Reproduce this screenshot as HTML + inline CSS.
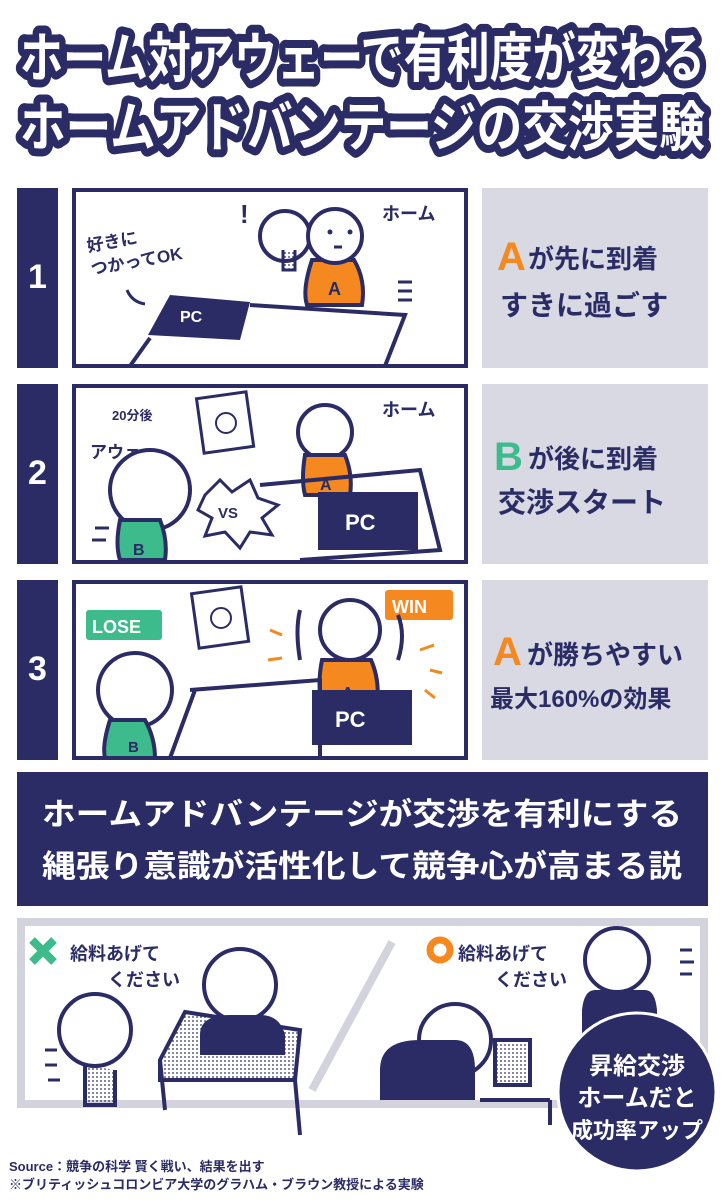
<!DOCTYPE html>
<html><head><meta charset="utf-8"><style>
html,body{margin:0;padding:0;background:#fff;}
svg{display:block;}
text{font-family:"Liberation Sans","Noto Sans CJK JP",sans-serif;font-weight:bold;}
</style></head><body>
<svg width="724" height="1200" viewBox="0 0 724 1200" xmlns="http://www.w3.org/2000/svg">
<defs>
<pattern id="dots" width="4" height="4" patternUnits="userSpaceOnUse"><circle cx="1" cy="1" r="0.9" fill="#2b2c66"/></pattern>
</defs>
<rect width="724" height="1200" fill="#fff"/>
<!-- Title -->
<g font-size="54" stroke="#2b2c66" stroke-width="16" stroke-linejoin="round" fill="#fff" style="paint-order:stroke">
<text x="20" y="77" textLength="685" lengthAdjust="spacingAndGlyphs">ホーム対アウェーで有利度が変わる</text>
<text x="20" y="146" textLength="685" lengthAdjust="spacingAndGlyphs">ホームアドバンテージの交渉実験</text>
</g>

<!-- Rows -->
<g id="rows">
<!-- row 1 -->
<rect x="17" y="188" width="41" height="180" fill="#2b2c66"/>
<text x="37.5" y="288" font-size="34" fill="#fff" text-anchor="middle">1</text>
<rect x="74" y="190" width="392" height="176" fill="#fff" stroke="#2b2c66" stroke-width="4"/>
<rect x="482" y="188" width="226" height="180" fill="#d9d9e3"/>
<text x="497" y="270" font-size="40" fill="#f5891f">A</text>
<text x="528" y="268" font-size="26" fill="#2b2c66">が先に到着</text>
<text x="500" y="315" font-size="28" fill="#2b2c66">すきに過ごす</text>
<!-- panel1 art -->
<text x="88" y="252" font-size="17" fill="#2b2c66" transform="rotate(-10 88 252)">好きに</text>
<text x="92" y="275" font-size="17" fill="#2b2c66" transform="rotate(-10 92 275)">つかってOK</text>
<path d="M127 290 q5 12 18 14" stroke="#2b2c66" stroke-width="3" fill="none"/>
<polygon points="170,295 250,302 240,340 148,335" fill="#2b2c66"/>
<text x="180" y="322" font-size="16" fill="#fff">PC</text>
<path d="M250 305 L405 315 L385 366 M150 338 L130 366" stroke="#2b2c66" stroke-width="4" fill="none"/>
<circle cx="285" cy="236" r="25" fill="#fff" stroke="#2b2c66" stroke-width="4"/>
<path d="M283 250 v20 h12 v-20" fill="url(#dots)" stroke="#2b2c66" stroke-width="3"/>
<text x="240" y="223" font-size="26" fill="#2b2c66">!</text>
<path d="M312 260 q-10 30 -5 45 h55 q4 -25 -8 -45z" fill="#f5891f" stroke="#2b2c66" stroke-width="4"/>
<text x="328" y="295" font-size="18" fill="#2b2c66">A</text>
<circle cx="335" cy="236" r="27" fill="#fff" stroke="#2b2c66" stroke-width="4"/>
<circle cx="330" cy="232" r="2.5" fill="#2b2c66"/><circle cx="350" cy="232" r="2.5" fill="#2b2c66"/>
<path d="M334 247 h8" stroke="#2b2c66" stroke-width="3"/>
<text x="382" y="220" font-size="18" fill="#2b2c66">ホーム</text>
<path d="M398 282 h14 M398 291 h14 M398 300 h14" stroke="#2b2c66" stroke-width="3"/>

<!-- row 2 -->
<rect x="17" y="384" width="41" height="180" fill="#2b2c66"/>
<text x="37.5" y="484" font-size="34" fill="#fff" text-anchor="middle">2</text>
<rect x="74" y="386" width="392" height="176" fill="#fff" stroke="#2b2c66" stroke-width="4"/>
<rect x="482" y="384" width="226" height="180" fill="#d9d9e3"/>
<text x="494" y="470" font-size="40" fill="#3dbb8c">B</text>
<text x="528" y="468" font-size="26" fill="#2b2c66">が後に到着</text>
<text x="498" y="512" font-size="28" fill="#2b2c66">交渉スタート</text>
<text x="112" y="420" font-size="13" fill="#2b2c66">20分後</text>
<text x="90" y="458" font-size="17" fill="#2b2c66">アウェー</text>
<rect x="200" y="395" width="50" height="55" fill="#fff" stroke="#2b2c66" stroke-width="3" transform="rotate(-8 225 422)"/>
<circle cx="226" cy="423" r="10" fill="none" stroke="#2b2c66" stroke-width="2"/>
<text x="382" y="416" font-size="18" fill="#2b2c66">ホーム</text>
<circle cx="325" cy="432" r="27" fill="#fff" stroke="#2b2c66" stroke-width="4"/>
<path d="M305 455 q-4 25 0 40 h45 q3 -20 -5 -40z" fill="#f5891f" stroke="#2b2c66" stroke-width="4"/>
<text x="320" y="490" font-size="16" fill="#2b2c66">A</text>
<path d="M260 485 L420 470 L440 550 L300 560" fill="none" stroke="#2b2c66" stroke-width="4"/>
<rect x="318" y="492" width="100" height="58" fill="#2b2c66"/>
<text x="345" y="530" font-size="22" fill="#fff">PC</text>
<polygon points="205,495 220,480 232,492 250,480 258,498 278,505 262,518 272,535 250,532 240,548 225,532 205,536 212,518 198,510" fill="#fff" stroke="#2b2c66" stroke-width="3"/>
<text x="218" y="518" font-size="15" fill="#2b2c66">VS</text>
<circle cx="150" cy="490" r="40" fill="#fff" stroke="#2b2c66" stroke-width="4"/>
<path d="M120 520 q-5 25 0 40 h45 q3 -20 -5 -40z" fill="#3dbb8c" stroke="#2b2c66" stroke-width="4"/>
<text x="133" y="555" font-size="16" fill="#2b2c66">B</text>
<path d="M95 528 h14 M92 540 h14" stroke="#2b2c66" stroke-width="3"/>

<!-- row 3 -->
<rect x="17" y="580" width="41" height="180" fill="#2b2c66"/>
<text x="37.5" y="680" font-size="34" fill="#fff" text-anchor="middle">3</text>
<rect x="74" y="582" width="392" height="176" fill="#fff" stroke="#2b2c66" stroke-width="4"/>
<rect x="482" y="580" width="226" height="180" fill="#d9d9e3"/>
<text x="493" y="665" font-size="40" fill="#f5891f">A</text>
<text x="527" y="664" font-size="26" fill="#2b2c66">が勝ちやすい</text>
<text x="490" y="707" font-size="24" fill="#2b2c66">最大160%の効果</text>
<rect x="86" y="610" width="76" height="30" rx="3" fill="#3dbb8c"/>
<text x="92" y="633" font-size="18" fill="#fff">LOSE</text>
<rect x="385" y="590" width="68" height="30" rx="3" fill="#f5891f"/>
<text x="392" y="613" font-size="18" fill="#fff">WIN</text>
<rect x="195" y="590" width="50" height="55" fill="#fff" stroke="#2b2c66" stroke-width="3" transform="rotate(-8 220 617)"/>
<circle cx="221" cy="618" r="10" fill="none" stroke="#2b2c66" stroke-width="2"/>
<circle cx="350" cy="630" r="30" fill="#fff" stroke="#2b2c66" stroke-width="4"/>
<path d="M322 660 q-5 25 0 45 h55 q3 -25 -6 -45z" fill="#f5891f" stroke="#2b2c66" stroke-width="4"/>
<text x="342" y="698" font-size="16" fill="#2b2c66">A</text>
<path d="M300 660 q-5 -30 0 -50 M398 660 q8 -25 0 -45" stroke="#2b2c66" stroke-width="4" fill="none"/>
<path d="M190 690 L320 680 L320 760 M170 758 L195 690" fill="none" stroke="#2b2c66" stroke-width="4"/>
<rect x="312" y="690" width="100" height="55" fill="#2b2c66"/>
<text x="335" y="727" font-size="22" fill="#fff">PC</text>
<circle cx="135" cy="690" r="37" fill="#fff" stroke="#2b2c66" stroke-width="4"/>
<path d="M110 720 q-8 25 -5 38 h50 q0 -20 -10 -38z" fill="#3dbb8c" stroke="#2b2c66" stroke-width="4"/>
<text x="128" y="752" font-size="15" fill="#2b2c66">B</text>
<g stroke="#f5891f" stroke-width="3"><path d="M270 630 l12 5 M268 660 l14 -2 M420 650 l14 -5 M430 670 l12 3 M425 690 l10 8"/></g>
</g>

<!-- navy box -->
<rect x="17" y="772" width="691" height="134" fill="#2b2c66"/>
<text x="362" y="825" font-size="31" fill="#fff" text-anchor="middle" textLength="640" lengthAdjust="spacingAndGlyphs">ホームアドバンテージが交渉を有利にする</text>
<text x="362" y="877" font-size="31" fill="#fff" text-anchor="middle" textLength="640" lengthAdjust="spacingAndGlyphs">縄張り意識が活性化して競争心が高まる説</text>

<!-- bottom panel -->
<rect x="21" y="922" width="683" height="182" fill="#fff" stroke="#d3d3de" stroke-width="8"/>
<path d="M392 942 L312 1090" stroke="#d3d3de" stroke-width="8"/>
<path d="M32 940 l22 22 M54 940 l-22 22" stroke="#3dbb8c" stroke-width="8"/>
<text x="70" y="960" font-size="18" fill="#2b2c66">給料あげて</text>
<text x="108" y="986" font-size="18" fill="#2b2c66">ください</text>
<circle cx="440" cy="950" r="10" fill="none" stroke="#f5891f" stroke-width="7"/>
<text x="458" y="960" font-size="18" fill="#2b2c66">給料あげて</text>
<text x="495" y="986" font-size="18" fill="#2b2c66">ください</text>
<!-- left people -->
<circle cx="95" cy="1030" r="36" fill="#fff" stroke="#2b2c66" stroke-width="4"/>
<path d="M85 1065 v40 h30 v-35" fill="url(#dots)" stroke="#2b2c66" stroke-width="4"/>
<path d="M45 1050 h12 M45 1065 h12 M48 1080 h12" stroke="#2b2c66" stroke-width="3"/>
<circle cx="240" cy="985" r="36" fill="#fff" stroke="#2b2c66" stroke-width="4"/>
<path d="M200 1035 q0 -20 30 -20 h30 q20 0 25 20 v20 h-85z" fill="#2b2c66"/>
<path d="M160 1060 L185 1012 L300 1030 L295 1080 L160 1080z" fill="url(#dots)" stroke="#2b2c66" stroke-width="4"/>
<path d="M160 1060 L165 1110 M295 1080 L300 1135" stroke="#2b2c66" stroke-width="4"/>
<!-- right people -->
<circle cx="455" cy="1040" r="36" fill="#fff" stroke="#2b2c66" stroke-width="4"/>
<path d="M380 1070 q0 -30 40 -30 h35 q20 0 20 30 v30 h-95z" fill="#2b2c66"/>
<rect x="495" y="1040" width="35" height="45" fill="url(#dots)" stroke="#2b2c66" stroke-width="4"/>
<path d="M480 1100 h70 M550 1100 v25" stroke="#2b2c66" stroke-width="4"/>
<circle cx="617" cy="960" r="32" fill="#fff" stroke="#2b2c66" stroke-width="4"/>
<path d="M595 990 h50 q10 0 12 20 v50 h-75 v-50 q2 -20 13 -20z" fill="#2b2c66"/>
<path d="M680 950 h12 M680 962 h14 M680 974 h12" stroke="#2b2c66" stroke-width="3"/>
<!-- circle -->
<circle cx="637" cy="1092" r="79" fill="#2b2c66" stroke="#fff" stroke-width="3"/>
<text x="637" y="1074" font-size="24" fill="#fff" text-anchor="middle">昇給交渉</text>
<text x="637" y="1106" font-size="24" fill="#fff" text-anchor="middle">ホームだと</text>
<text x="637" y="1138" font-size="22" fill="#fff" text-anchor="middle">成功率アップ</text>

<!-- source -->
<text x="9" y="1171" font-size="13" fill="#2b2c66">Source：競争の科学 賢く戦い、結果を出す</text>
<text x="9" y="1189" font-size="13" fill="#2b2c66">※ブリティッシュコロンビア大学のグラハム・ブラウン教授による実験</text>
</svg>
</body></html>
